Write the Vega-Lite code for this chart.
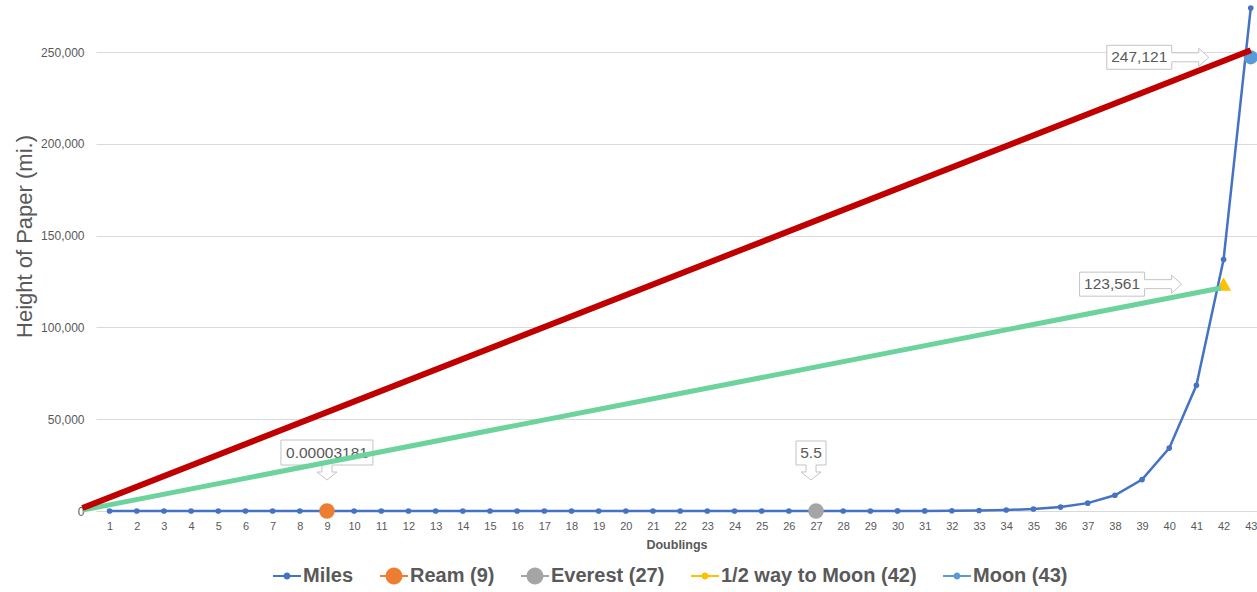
{
  "$schema": "https://vega.github.io/schema/vega-lite/v6.json",
  "width": 1161,
  "height": 511,
  "autosize": {"type": "none"},
  "padding": {"left": 96, "top": 0, "right": 0, "bottom": 81},
  "background": "white",
  "config": {"view": {"stroke": null}, "font": "Liberation Sans"},
  "datasets": {
    "miles": [
      {"n": 1, "v": 0.0000000623}, {"n": 2, "v": 0.000000125}, {"n": 3, "v": 0.000000249},
      {"n": 4, "v": 0.000000498}, {"n": 5, "v": 0.000000997}, {"n": 6, "v": 0.00000199},
      {"n": 7, "v": 0.00000399}, {"n": 8, "v": 0.00000797}, {"n": 9, "v": 0.0000159},
      {"n": 10, "v": 0.0000319}, {"n": 11, "v": 0.0000638}, {"n": 12, "v": 0.000128},
      {"n": 13, "v": 0.000255}, {"n": 14, "v": 0.00051}, {"n": 15, "v": 0.00102},
      {"n": 16, "v": 0.00204}, {"n": 17, "v": 0.00408}, {"n": 18, "v": 0.00817},
      {"n": 19, "v": 0.0163}, {"n": 20, "v": 0.0327}, {"n": 21, "v": 0.0653},
      {"n": 22, "v": 0.131}, {"n": 23, "v": 0.261}, {"n": 24, "v": 0.523},
      {"n": 25, "v": 1.05}, {"n": 26, "v": 2.09}, {"n": 27, "v": 4.18},
      {"n": 28, "v": 8.36}, {"n": 29, "v": 16.7}, {"n": 30, "v": 33.4},
      {"n": 31, "v": 66.9}, {"n": 32, "v": 134}, {"n": 33, "v": 268},
      {"n": 34, "v": 535}, {"n": 35, "v": 1070}, {"n": 36, "v": 2141},
      {"n": 37, "v": 4281}, {"n": 38, "v": 8563}, {"n": 39, "v": 17125},
      {"n": 40, "v": 34250}, {"n": 41, "v": 68500}, {"n": 42, "v": 137000},
      {"n": 43, "v": 274000}
    ],
    "red": [{"n": 0, "v": 1600}, {"n": 43, "v": 251000}],
    "green": [{"n": 0, "v": 500}, {"n": 41.9, "v": 121500}],
    "markers": [
      {"n": 9, "v": 0.00003181, "series": "Ream (9)", "label": "0.00003181"},
      {"n": 27, "v": 5.5, "series": "Everest (27)", "label": "5.5"},
      {"n": 42, "v": 123561, "series": "1/2 way to Moon (42)", "label": "123,561"},
      {"n": 43, "v": 247121, "series": "Moon (43)", "label": "247,121"}
    ]
  },
  "encoding": {
    "x": {
      "field": "n", "type": "quantitative",
      "scale": {"domain": [0.5, 43.23], "nice": false, "zero": false},
      "axis": {
        "title": "Doublings",
        "values": [1,2,3,4,5,6,7,8,9,10,11,12,13,14,15,16,17,18,19,20,21,22,23,24,25,26,27,28,29,30,31,32,33,34,35,36,37,38,39,40,41,42,43],
        "grid": false, "ticks": false,
        "domainColor": "#d9d9d9", "domainWidth": 1,
        "labelFontSize": 11, "labelColor": "#595959", "labelPadding": 9,
        "labelFlush": false, "labelOverlap": false,
        "titleFontSize": 12.5, "titleFontWeight": "bold", "titleColor": "#595959", "titlePadding": 7
      }
    },
    "y": {
      "field": "v", "type": "quantitative",
      "scale": {"domain": [0, 278340], "nice": false},
      "axis": {
        "title": "Height of Paper (mi.)",
        "values": [0, 50000, 100000, 150000, 200000, 250000],
        "labelExpr": "format(datum.value, ',')",
        "domain": false, "ticks": false,
        "gridColor": "#d9d9d9", "gridWidth": 1,
        "labelFontSize": 12, "labelColor": "#595959", "labelPadding": 12,
        "titleFontSize": 22, "titleFontWeight": "normal", "titleColor": "#595959",
        "titleX": -60, "titleY": 236
      }
    }
  },
  "layer": [
    {
      "data": {"name": "miles"},
      "mark": {"type": "line", "strokeWidth": 2.5, "point": {"size": 32, "filled": true}},
      "encoding": {
        "color": {
          "datum": "Miles", "type": "nominal", "title": null,
          "scale": {
            "domain": ["Miles", "Ream (9)", "Everest (27)", "1/2 way to Moon (42)", "Moon (43)"],
            "range": ["#4472c4", "#ed7d31", "#a5a5a5", "#ffc000", "#5b9bd5"]
          },
          "legend": {
            "title": null, "orient": "none", "legendX": 177, "legendY": 562,
            "direction": "horizontal", "columns": 5, "columnPadding": 26,
            "symbolType": "M-1,-0.08L1,-0.08L1,0.08L-1,0.08ZM-0.25,0A0.25,0.25,0,1,1,0.25,0A0.25,0.25,0,1,1,-0.25,0Z",
            "symbolSize": 784, "symbolStrokeWidth": 0,
            "labelFont": "Liberation Sans", "labelFontSize": 20, "labelFontWeight": "bold",
            "labelColor": "#595959", "labelOffset": 2, "labelLimit": 400, "padding": 0,
            "encode": {
              "symbols": {
                "update": {
                  "shape": {"signal": "(datum.value === 'Ream (9)' || datum.value === 'Everest (27)') ? 'M-1,-0.08L1,-0.08L1,0.08L-1,0.08ZM-0.6,0A0.6,0.6,0,1,1,0.6,0A0.6,0.6,0,1,1,-0.6,0Z' : 'M-1,-0.08L1,-0.08L1,0.08L-1,0.08ZM-0.25,0A0.25,0.25,0,1,1,0.25,0A0.25,0.25,0,1,1,-0.25,0Z'"},
                  "fill": {"scale": "color", "field": "value"},
                  "stroke": {"value": "transparent"},
                  "strokeWidth": {"value": 0},
                  "opacity": {"value": 1},
                  "size": {"value": 784}
                }
              }
            }
          }
        }
      }
    },
    {
      "data": {"name": "markers"},
      "transform": [{"filter": "datum.series === 'Ream (9)' || datum.series === 'Everest (27)'"}],
      "mark": {"type": "point", "filled": true, "size": 240, "opacity": 1},
      "encoding": {"color": {"field": "series", "type": "nominal", "title": null}}
    },
    {
      "data": {"name": "markers"},
      "transform": [{"filter": "datum.series === '1/2 way to Moon (42)'"}],
      "mark": {"type": "point", "filled": true, "shape": "triangle-up", "size": 230, "opacity": 1},
      "encoding": {"color": {"field": "series", "type": "nominal", "title": null}}
    },
    {
      "data": {"name": "markers"},
      "transform": [{"filter": "datum.series === 'Moon (43)'"}],
      "mark": {"type": "point", "filled": true, "size": 200, "opacity": 1},
      "encoding": {"color": {"field": "series", "type": "nominal", "title": null}}
    },
    {
      "data": {"name": "markers"},
      "transform": [{"filter": "datum.n >= 42"}],
      "mark": {"type": "point", "shape": "M-144,-12L-79,-12L-79,-4.5L-52,-4.5L-52,-9L-42,0L-52,9L-52,4.5L-79,4.5L-79,12L-144,12Z", "size": 4, "filled": true, "fill": "white", "stroke": "#c4c4c4", "strokeWidth": 1, "opacity": 1}
    },
    {
      "data": {"name": "markers"},
      "transform": [{"filter": "datum.n >= 42"}],
      "mark": {"type": "text", "dx": -111.5, "fontSize": 15.5, "color": "#595959", "align": "center", "baseline": "middle"},
      "encoding": {"text": {"field": "label"}}
    },
    {
      "data": {"name": "markers"},
      "transform": [{"filter": "datum.n === 9"}],
      "mark": {"type": "point", "shape": "M-46,-71L46,-71L46,-46L5,-46L5,-39L10,-39L0,-31L-10,-39L-5,-39L-5,-46L-46,-46Z", "size": 4, "filled": true, "fill": "white", "stroke": "#c4c4c4", "strokeWidth": 1, "opacity": 1}
    },
    {
      "data": {"name": "markers"},
      "transform": [{"filter": "datum.n === 9"}],
      "mark": {"type": "text", "dy": -58.5, "fontSize": 15.5, "color": "#595959", "align": "center", "baseline": "middle"},
      "encoding": {"text": {"field": "label"}}
    },
    {
      "data": {"name": "markers"},
      "transform": [{"filter": "datum.n === 27"}],
      "mark": {"type": "point", "shape": "M-20,-70L10,-70L10,-46L0,-46L0,-39L5,-39L-5,-31L-15,-39L-10,-39L-10,-46L-20,-46Z", "size": 4, "filled": true, "fill": "white", "stroke": "#c4c4c4", "strokeWidth": 1, "opacity": 1}
    },
    {
      "data": {"name": "markers"},
      "transform": [{"filter": "datum.n === 27"}],
      "mark": {"type": "text", "dx": -5, "dy": -58, "fontSize": 15.5, "color": "#595959", "align": "center", "baseline": "middle"},
      "encoding": {"text": {"field": "label"}}
    },
    {
      "data": {"name": "green"},
      "mark": {"type": "line", "color": "#6dd39c", "strokeWidth": 5},
      "encoding": {}
    },
    {
      "data": {"name": "red"},
      "mark": {"type": "line", "color": "#c00000", "strokeWidth": 6},
      "encoding": {}
    }
  ]
}
